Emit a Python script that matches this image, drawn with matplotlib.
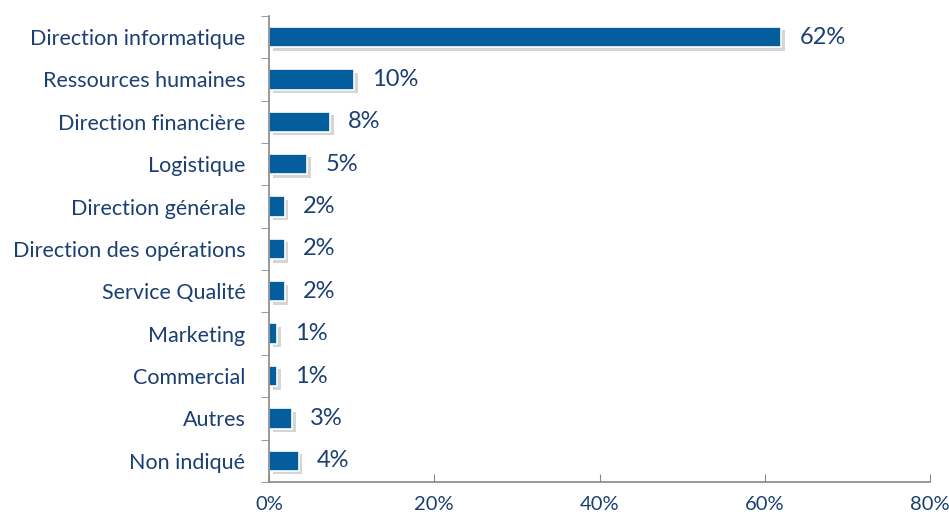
import matplotlib.pyplot as plt
import matplotlib.patheffects as pe
import numpy as np

plt.rcParams['font.family'] = ['Lato', 'DejaVu Sans']

# données
categories = ['Direction informatique', 'Ressources humaines', 'Direction financière',
              'Logistique', 'Direction générale', 'Direction des opérations',
              'Service Qualité', 'Marketing', 'Commercial', 'Autres', 'Non indiqué']
values = [62.0, 10.3, 7.4, 4.6, 1.9, 1.9, 1.9, 1.0, 1.0, 2.8, 3.6]
labels = ['62%', '10%', '8%', '5%', '2%', '2%', '2%', '1%', '1%', '3%', '4%']
xticks = [0, 20, 40, 60, 80]

bar_color = '#045E9E'
text_color = '#1B3F73'

fig = plt.figure(figsize=(9.49, 5.17), dpi=100)
ax = fig.add_axes([0.2835, 0.0677, 0.6965, 0.9017])

y = np.arange(len(categories))
bars = ax.barh(y, values, height=0.48, color=bar_color, edgecolor='white', linewidth=1.2,
               path_effects=[pe.SimplePatchShadow(offset=(2.5, -2.5), alpha=0.3, shadow_rgbFace='#777777'),
                             pe.Normal()])

for yi, v, lab in zip(y, values, labels):
    ax.text(v + 2.2, yi, lab, va='center', ha='left', fontsize=17, color=text_color)

ax.set_ylim(len(categories) - 0.5, -0.5)
ax.set_xlim(0, 80)
ax.set_yticks(y)
ax.set_yticklabels(categories, fontsize=15.5, color=text_color)
ax.set_yticks(np.arange(len(categories) + 1) - 0.5, minor=True)
ax.tick_params(axis='y', which='major', length=0, pad=17)
ax.tick_params(axis='y', which='minor', length=6, direction='out', color='#888888')
ax.set_xticks(xticks)
ax.set_xticklabels([f'{t}%' for t in xticks], fontsize=14.5, color=text_color)
ax.tick_params(axis='x', length=6, direction='in', color='#888888', pad=10)

for s in ['top', 'right']:
    ax.spines[s].set_visible(False)
for s in ['left', 'bottom']:
    ax.spines[s].set_color('#888888')
    ax.spines[s].set_linewidth(1.2)

fig.savefig('out.png', dpi=100)
